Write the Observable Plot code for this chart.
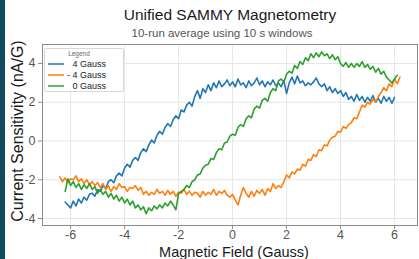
<!DOCTYPE html>
<html>
<head>
<meta charset="utf-8">
<script src="https://cdn.jsdelivr.net/npm/d3@7"></script>
<script src="https://cdn.jsdelivr.net/npm/@observablehq/plot@0.6"></script>
<style>
  html, body { margin: 0; padding: 0; background: #fff; }
  #wrap { position: relative; width: 419px; height: 259px; overflow: hidden; background: #fff; font-family: "Liberation Sans", Arial, sans-serif; }
  #strip { position: absolute; left: 0; top: 0; width: 5px; height: 259px; background: #0f4b5d; }
  #chart { position: absolute; left: 0; top: 0; }
  .t { position: absolute; white-space: nowrap; line-height: 1; }
  #title { left: 0; width: 460px; top: 7px; text-align: center; font-size: 15.5px; color: #1a1a1a; }
  #subtitle { left: 0; width: 444px; top: 28px; text-align: center; font-size: 11.5px; color: #555; }
  #xlabel { left: 0; width: 468px; top: 244.5px; text-align: center; font-size: 14.5px; color: #1a1a1a; }
  #ylabel { left: 18px; top: 131px; font-size: 16px; color: #1a1a1a; transform: translate(-50%, -50%) rotate(-90deg); }
  #legend { position: absolute; left: 44px; top: 48px; width: 78px; height: 42px; border: 1px solid #d8d8d8; border-radius: 2px; background: rgba(255,255,255,0.9); }
</style>
</head>
<body>
<div id="wrap">
  <div id="strip"></div>
  <div id="chart"></div>
  <div class="t" id="title">Unified SAMMY Magnetometry</div>
  <div class="t" id="subtitle">10-run average using 10 s windows</div>
  <div class="t" id="xlabel">Magnetic Field (Gauss)</div>
  <div class="t" id="ylabel">Current Sensitivity (nA/G)</div>
  <div id="legend"><svg id="legsvg" width="78" height="42"></svg></div>
</div>
<script>
// Field sweep values (Gauss)
const fieldGauss = [
  -6.4,-6.3,-6.2,-6.1,-6.0,-5.9,-5.8,-5.7,-5.6,-5.5,
  -5.4,-5.3,-5.2,-5.1,-5.0,-4.9,-4.8,-4.7,-4.6,-4.5,
  -4.4,-4.3,-4.2,-4.1,-4.0,-3.9,-3.8,-3.7,-3.6,-3.5,
  -3.4,-3.3,-3.2,-3.1,-3.0,-2.9,-2.8,-2.7,-2.6,-2.5,
  -2.4,-2.3,-2.2,-2.1,-2.0,-1.9,-1.8,-1.7,-1.6,-1.5,
  -1.4,-1.3,-1.2,-1.1,-1.0,-0.9,-0.8,-0.7,-0.6,-0.5,
  -0.4,-0.3,-0.2,-0.1,0.0,0.1,0.2,0.3,0.4,0.5,
  0.6,0.7,0.8,0.9,1.0,1.1,1.2,1.3,1.4,1.5,
  1.6,1.7,1.8,1.9,2.0,2.1,2.2,2.3,2.4,2.5,
  2.6,2.7,2.8,2.9,3.0,3.1,3.2,3.3,3.4,3.5,
  3.6,3.7,3.8,3.9,4.0,4.1,4.2,4.3,4.4,4.5,
  4.6,4.7,4.8,4.9,5.0,5.1,5.2,5.3,5.4,5.5,
  5.6,5.7,5.8,5.9,6.0,6.1,6.2
];

// Current sensitivity (nA/G), "4 Gauss" series
const plus4Gauss = [
  null,null,-3.15,-3.3,-3.45,-3.1,-3.35,-3.0,-3.2,-2.9,
  -3.05,-2.75,-2.7,-2.85,-2.5,-2.6,-2.3,-2.45,-2.1,-2.0,
  -2.15,-1.8,-1.65,-1.8,-1.4,-1.2,-1.35,-1.0,-0.85,-1.0,
  -0.6,-0.4,-0.55,-0.2,0.05,-0.1,0.3,0.5,0.35,0.7,
  0.9,0.75,1.1,1.3,1.15,1.6,1.5,1.85,2.0,1.8,
  2.3,2.6,2.2,2.7,2.5,2.9,2.6,3.0,2.75,3.1,
  2.8,2.95,3.15,2.85,3.05,2.8,3.2,2.9,3.0,2.75,
  3.1,2.85,3.0,3.25,2.9,3.1,2.8,3.05,2.9,3.15,
  2.85,3.0,2.8,3.1,2.45,3.0,3.3,2.95,3.35,3.0,
  3.1,2.85,3.0,2.9,3.05,3.25,2.95,2.8,2.95,2.6,
  2.8,2.5,2.7,2.45,2.6,2.3,2.5,2.15,2.3,2.05,
  2.4,2.1,2.3,2.0,2.25,2.05,2.35,2.0,2.2,1.95,
  2.3,2.05,2.25,1.95,2.25,null,null
];

// "- 4 Gauss" series
const minus4Gauss = [
  -1.85,-2.1,-1.9,-2.15,-1.95,-2.0,-1.8,-2.1,-1.95,-2.2,
  -2.0,-2.25,-2.1,-2.3,-2.15,-2.4,-2.2,-2.5,-2.3,-2.6,
  -2.35,-2.5,-2.2,-2.4,-2.35,-2.6,-2.4,-2.45,-2.3,-2.55,
  -2.4,-2.75,-2.6,-2.8,-2.65,-2.75,-2.5,-2.7,-2.6,-2.8,
  -2.55,-2.75,-2.6,-2.85,-2.65,-2.7,-2.5,-2.75,-2.6,-2.8,
  -2.65,-2.7,-2.9,-2.6,-2.8,-2.65,-2.75,-2.5,-2.8,-2.6,
  -2.7,-2.55,-2.8,-2.9,-2.75,-3.05,-3.3,-2.8,-2.4,-2.7,
  -2.9,-2.6,-2.85,-2.55,-2.7,-2.5,-2.8,-2.45,-2.6,-2.2,
  -2.45,-2.3,-2.4,-2.1,-1.75,-1.9,-1.6,-1.7,-1.45,-1.5,
  -1.2,-1.3,-0.95,-1.0,-0.7,-0.8,-0.45,-0.5,-0.2,-0.25,
  0.05,0.2,0.25,0.5,0.45,0.75,0.65,0.85,0.95,1.2,
  1.15,1.5,1.85,1.75,2.0,1.9,2.15,2.0,2.3,2.5,
  2.75,2.6,2.95,2.8,3.2,2.95,3.3
];

// "0 Gauss" series
const zeroGauss = [
  null,null,-2.6,-1.95,-2.3,-2.1,-2.4,-2.2,-2.5,-2.25,
  -2.45,-2.2,-2.5,-2.35,-2.7,-2.5,-2.75,-2.6,-2.9,-2.7,
  -3.0,-2.8,-3.1,-2.9,-3.2,-3.0,-3.3,-3.1,-3.45,-3.3,
  -3.55,-3.4,-3.75,-3.45,-3.6,-3.35,-3.5,-3.3,-3.45,-3.2,
  -3.35,-3.1,-3.3,-3.55,-2.7,-2.6,-2.5,-2.3,-2.4,-2.1,
  -2.0,-1.75,-1.7,-1.4,-1.25,-1.2,-0.9,-0.95,-0.6,-0.4,
  -0.45,-0.1,-0.05,0.25,0.35,0.3,0.7,0.85,0.75,1.15,
  1.3,1.2,1.65,1.8,1.7,2.1,2.2,2.05,2.5,2.7,
  2.6,3.1,3.2,3.05,3.45,3.6,3.5,3.9,3.75,4.1,
  3.95,4.3,4.15,4.5,4.3,4.55,4.35,4.6,4.4,4.5,
  4.25,4.45,4.2,4.35,4.0,3.85,4.05,3.8,4.0,3.8,
  4.0,3.85,4.1,3.8,3.95,3.7,3.85,3.55,3.75,3.45,
  3.6,3.3,3.15,3.0,3.2,3.4,null
];

const seriesNames = ["4 Gauss", "- 4 Gauss", "0 Gauss"];
const seriesColors = ["#1f77b4", "#ff7f0e", "#2ca02c"];
const xTicks = [-6, -4, -2, 0, 2, 4, 6];
const yTicks = [-4, -2, 0, 2, 4];

const seriesValues = [plus4Gauss, minus4Gauss, zeroGauss];
const rows = [];
seriesValues.forEach((vals, s) => {
  vals.forEach((v, i) => {
    if (v != null) rows.push({series: seriesNames[s], field: fieldGauss[i], value: v});
  });
});

const chart = Plot.plot({
  width: 419,
  height: 259,
  marginLeft: 42,
  marginRight: 2,
  marginTop: 44,
  marginBottom: 34,
  style: {background: "transparent", fontFamily: "Liberation Sans, Arial, sans-serif"},
  x: {domain: [-7.04, 6.85], label: null},
  y: {domain: [-4.36, 4.98], label: null},
  color: {domain: seriesNames, range: seriesColors},
  marks: [
    Plot.gridX(xTicks, {stroke: "#e6e6e6", strokeOpacity: 1, strokeWidth: 1}),
    Plot.gridY(yTicks, {stroke: "#e6e6e6", strokeOpacity: 1, strokeWidth: 1}),
    Plot.line(rows, {x: "field", y: "value", z: "series", stroke: "series", strokeWidth: 1.6, strokeLinejoin: "round"}),
    Plot.frame({stroke: "#8c8c8c", strokeWidth: 1}),
    Plot.axisX(xTicks, {tickSize: 4, tickPadding: 1, fontSize: 12.5, fill: "#555", stroke: "#8c8c8c", label: null, tickFormat: d => String(d)}),
    Plot.axisY(yTicks, {tickSize: 4, tickPadding: 3, fontSize: 12.5, fill: "#555", stroke: "#8c8c8c", label: null, tickFormat: d => String(d)})
  ]
});
document.getElementById("chart").appendChild(chart);

// Legend (drawn with the same colour scale)
const colorScale = chart.scale("color");
const leg = d3.select("#legsvg");
leg.append("text").attr("x", 34).attr("y", 7).attr("text-anchor", "middle")
  .attr("font-size", 6.5).attr("fill", "#666").text("Legend");
seriesNames.forEach((name, i) => {
  const cy = 15 + i * 11;
  leg.append("line").attr("x1", 3).attr("x2", 19).attr("y1", cy).attr("y2", cy)
    .attr("stroke", colorScale.apply(name)).attr("stroke-width", 1.5);
  leg.append("text").attr("x", 61).attr("y", cy + 3.2).attr("text-anchor", "end")
    .attr("font-size", 9).attr("fill", "#222").text(name);
});
</script>
</body>
</html>
